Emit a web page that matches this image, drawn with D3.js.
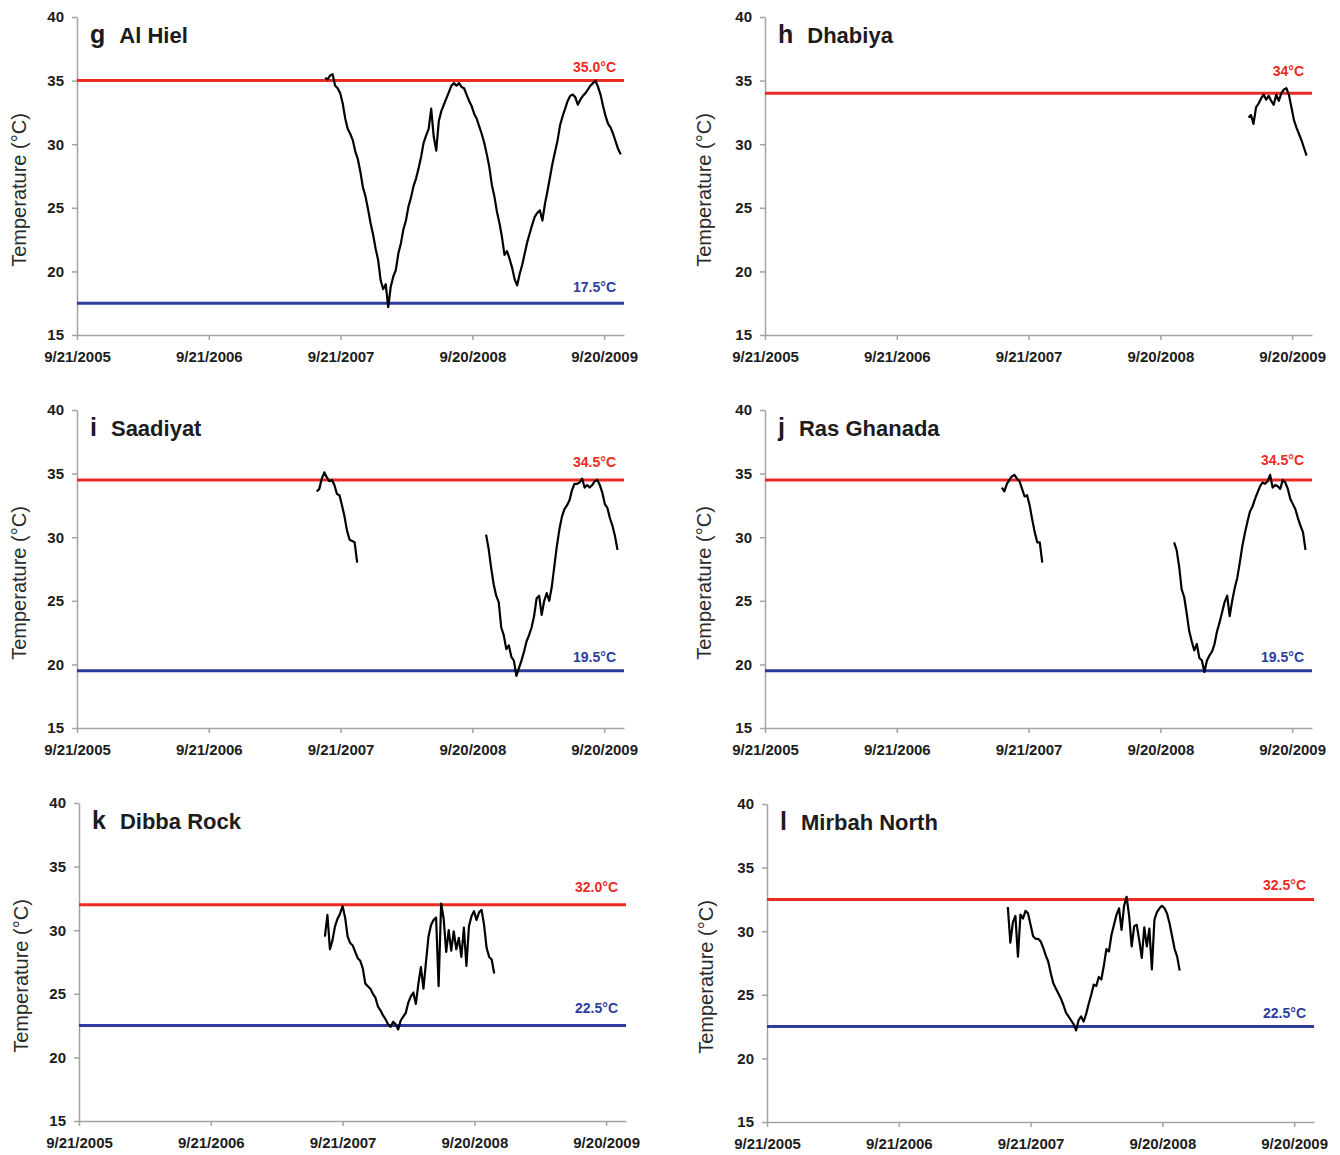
<!DOCTYPE html>
<html>
<head>
<meta charset="utf-8">
<script src="https://cdn.jsdelivr.net/npm/d3@7"></script>
<style>
  body { margin: 0; background: #fff; }
  text { font-family: Arial, "Liberation Sans", sans-serif; }
</style>
</head>
<body>
<svg id="chart" width="1340" height="1155"></svg>
<script>
// ---- data (weekly readings, 7 days apart) ----
const letters = ["g", "h", "i", "j", "k", "l"];
const sites = ["Al Hiel", "Dhabiya", "Saadiyat", "Ras Ghanada", "Dibba Rock", "Mirbah North"];
const upperLimits = [35.0, 34, 34.5, 34.5, 32.0, 32.5];
const upperLabels = ["35.0°C", "34°C", "34.5°C", "34.5°C", "32.0°C", "32.5°C"];
const lowerLimits = [17.5, null, 19.5, 19.5, 22.5, 22.5];
const lowerLabels = ["17.5°C", null, "19.5°C", "19.5°C", "22.5°C", "22.5°C"];
const tickDates = ["2005-09-21", "2006-09-21", "2007-09-21", "2008-09-20", "2009-09-20"];
const dateDomain = ["2005-09-21", "2009-11-14"];
const tempTicks = [15, 20, 25, 30, 35, 40];
const stepDays = 7;

const alHielTemps = [
  35.2, 35.1, 35.4, 35.5, 34.6, 34.4, 34.0, 33.2, 32.0, 31.2,
  30.8, 30.3, 29.4, 28.8, 27.8, 26.6, 25.9, 24.9, 23.8, 22.9,
  21.8, 20.9, 19.3, 18.6, 19.0, 17.2, 18.8, 19.6, 20.1, 21.4,
  22.2, 23.3, 24.0, 25.1, 25.8, 26.7, 27.3, 28.1, 29.0, 30.1,
  30.7, 31.2, 32.8, 30.6, 29.5, 31.8, 32.6, 33.1, 33.6, 34.1,
  34.6, 34.8, 34.6, 34.8, 34.5, 34.4, 33.9, 33.4, 33.0, 32.4,
  32.0, 31.4, 30.8, 30.1, 29.2, 28.2, 26.8, 25.9, 24.7, 23.8,
  22.7, 21.3, 21.6, 21.0, 20.3, 19.4, 18.9, 19.8, 20.5, 21.4,
  22.3, 23.0, 23.7, 24.3, 24.6, 24.8, 24.0, 25.3, 26.3, 27.4,
  28.5, 29.4, 30.3, 31.5, 32.2, 32.8, 33.4, 33.8, 33.9, 33.7,
  33.1, 33.5, 33.8, 34.0, 34.3, 34.6, 34.8, 35.0, 34.5, 33.9,
  33.0, 32.2, 31.6, 31.3, 30.8, 30.2, 29.6, 29.2
];
const dhabiyaTemps = [
  32.1, 32.3, 31.6, 32.9, 33.2, 33.6, 33.9, 33.5, 33.8, 33.4,
  33.1, 33.9, 33.4, 34.0, 34.3, 34.4, 33.9, 32.9, 31.9, 31.3,
  30.8, 30.3, 29.7, 29.1
];
const saadiyatTemps2007 = [
  33.6, 33.8, 34.6, 35.1, 34.7, 34.4, 34.5, 34.1, 33.4, 33.3,
  32.5, 31.6, 30.5, 29.8, 29.7, 29.6, 28.0
];
const saadiyatTemps2008 = [
  30.2, 29.1, 27.6, 26.3, 25.4, 24.9, 22.9, 22.3, 21.2, 21.5,
  20.6, 20.3, 19.1, 19.7, 20.3, 21.0, 21.8, 22.3, 22.9, 23.8,
  25.2, 25.4, 23.9, 25.0, 25.6, 25.0, 26.1, 27.7, 29.3, 30.6,
  31.6, 32.2, 32.5, 32.9, 33.7, 34.2, 34.2, 34.3, 34.6, 33.9,
  34.1, 33.9, 34.1, 34.4, 34.5, 34.1, 33.5, 32.6, 32.3, 31.5,
  30.9, 30.1, 29.0
];
const rasGhanadaTemps2007 = [
  33.9, 33.6, 34.2, 34.5, 34.8, 34.9, 34.6, 34.4, 33.8, 33.2,
  33.3, 32.5, 31.4, 30.4, 29.6, 29.6, 28.0
];
const rasGhanadaTemps2008 = [
  29.6, 29.0, 27.7, 25.9, 25.3, 24.0, 22.6, 21.8, 21.1, 21.6,
  20.5, 20.3, 19.4, 20.3, 20.7, 21.0, 21.6, 22.6, 23.3, 24.1,
  24.9, 25.4, 23.8, 25.0, 26.0, 26.8, 28.0, 29.3, 30.3, 31.2,
  32.0, 32.4, 33.0, 33.5, 34.0, 34.3, 34.2, 34.4, 34.9, 33.9,
  34.1, 34.0, 33.8, 34.5, 34.3, 33.8, 33.0, 32.6, 32.2, 31.5,
  30.9, 30.4, 29.0
];
const dibbaRockTemps = [
  29.5, 31.2, 28.5, 29.2, 30.3, 30.9, 31.3, 31.9, 31.0, 29.5,
  29.0, 28.8, 28.3, 27.8, 27.6, 27.0, 25.8, 25.6, 25.4, 25.0,
  24.7, 24.0, 23.7, 23.3, 23.0, 22.6, 22.4, 22.8, 22.6, 22.2,
  22.9, 23.2, 23.5, 24.3, 24.8, 25.1, 24.2, 25.8, 27.1, 25.4,
  27.5, 29.5, 30.4, 30.8, 31.0, 25.6, 32.1, 30.9, 28.3, 30.0,
  28.4, 29.9, 28.5, 29.4, 27.9, 30.2, 27.2, 30.3, 31.1, 31.5,
  30.8, 31.4, 31.6, 30.4, 28.6, 27.9, 27.7, 26.6
];
const mirbahNorthTemps = [
  31.9, 29.1, 30.7, 31.2, 28.0, 31.3, 31.0, 31.6, 31.4, 30.5,
  29.6, 29.4, 29.4, 29.2, 28.7, 28.1, 27.6, 26.7, 25.9, 25.5,
  25.1, 24.7, 24.2, 23.6, 23.3, 23.0, 22.7, 22.2, 23.0, 23.3,
  22.9, 23.5, 24.3, 25.0, 25.8, 25.7, 26.4, 26.2, 27.3, 28.6,
  28.4, 29.7, 30.5, 31.3, 31.8, 30.1, 32.0, 32.7, 31.2, 28.8,
  30.4, 30.5, 29.3, 27.9, 30.3, 28.8, 30.2, 27.0, 30.9, 31.5,
  31.8, 32.0, 31.8, 31.4, 30.6, 29.6, 28.6, 28.0, 26.9
];

// start date of each logged segment, per panel
const segments = [
  [["2007-08-09", alHielTemps]],
  [["2009-05-22", dhabiyaTemps]],
  [["2007-07-17", saadiyatTemps2007], ["2008-10-28", saadiyatTemps2008]],
  [["2007-07-09", rasGhanadaTemps2007], ["2008-10-28", rasGhanadaTemps2008]],
  [["2007-08-03", dibbaRockTemps]],
  [["2007-07-20", mirbahNorthTemps]]
];

// ---- layout ----
const panelLeft = [77, 765, 77, 765, 79, 767];
const panelTop = [17, 17, 410, 410, 803, 804];
const upperLabelGap = [9, 17, 13, 15, 13, 9];
const lowerLabelGap = [11, 0, 9, 9, 13, 9];
const plotW = 547, plotH = 318;
const red = "#ec2a24", blue = "#2d3c9e", axisGrey = "#a3a3a3", ink = "#1c1c1c";

const parse = d3.timeParse("%Y-%m-%d");
const fmt = d3.timeFormat("%-m/%-d/%Y");

const x = d3.scaleTime()
  .domain(dateDomain.map(parse))
  .range([0, plotW]);
const y = d3.scaleLinear()
  .domain([15, 40])
  .range([plotH, 0]);

const line = d3.line()
  .x(d => x(d.date))
  .y(d => y(d.t));

const svg = d3.select("#chart");

letters.forEach((letter, p) => {
  const g = svg.append("g")
    .attr("transform", `translate(${panelLeft[p]},${panelTop[p]})`);

  // axes
  const xAxis = g.append("g")
    .attr("transform", `translate(0,${plotH})`)
    .call(d3.axisBottom(x)
      .tickValues(tickDates.map(parse))
      .tickFormat(fmt)
      .tickSize(5)
      .tickSizeOuter(0)
      .tickPadding(11));
  const yAxis = g.append("g")
    .call(d3.axisLeft(y)
      .tickValues(tempTicks)
      .tickSize(5)
      .tickSizeOuter(0)
      .tickPadding(8));
  [xAxis, yAxis].forEach(a => {
    a.select(".domain").attr("stroke", axisGrey).attr("stroke-width", 1.5);
    a.selectAll(".tick line").attr("stroke", axisGrey).attr("stroke-width", 1.5);
    a.selectAll(".tick text")
      .attr("fill", ink)
      .style("font-size", "15px")
      .style("font-weight", "bold");
  });

  // axis title
  g.append("text")
    .attr("transform", `translate(${p % 2 ? -61 : -58},${plotH / 2 + 14}) rotate(-90)`)
    .attr("text-anchor", "middle")
    .attr("dy", "0.35em")
    .attr("fill", "#2a2a2a")
    .style("font-size", "20px")
    .text("Temperature (°C)");

  // threshold lines
  const limits = [
    [upperLimits[p], upperLabels[p], red, upperLabelGap[p]],
    [lowerLimits[p], lowerLabels[p], blue, lowerLabelGap[p]]
  ].filter(l => l[0] !== null);
  limits.forEach(([v, label, col, gap]) => {
    g.append("line")
      .attr("x1", 0).attr("x2", plotW)
      .attr("y1", y(v)).attr("y2", y(v))
      .attr("stroke", col)
      .attr("stroke-width", 3);
    g.append("text")
      .attr("x", plotW - 8)
      .attr("y", y(v) - gap)
      .attr("text-anchor", "end")
      .attr("fill", col)
      .style("font-size", "14px")
      .style("font-weight", "bold")
      .text(label);
  });

  // temperature records
  segments[p].forEach(([start, temps]) => {
    const t0 = parse(start);
    const pts = temps.map((t, i) => ({ date: d3.timeDay.offset(t0, i * stepDays), t }));
    g.append("path")
      .datum(pts)
      .attr("d", line)
      .attr("fill", "none")
      .attr("stroke", "#000")
      .attr("stroke-width", 2.2)
      .attr("stroke-linejoin", "round");
  });

  // panel title
  const title = g.append("text")
    .attr("x", 13)
    .attr("y", 26)
    .attr("fill", ink)
    .style("font-weight", "bold");
  title.append("tspan").style("font-size", "25px").text(letter);
  title.append("tspan").attr("dx", 14).style("font-size", "22px").text(sites[p]);
});
</script>
</body>
</html>
